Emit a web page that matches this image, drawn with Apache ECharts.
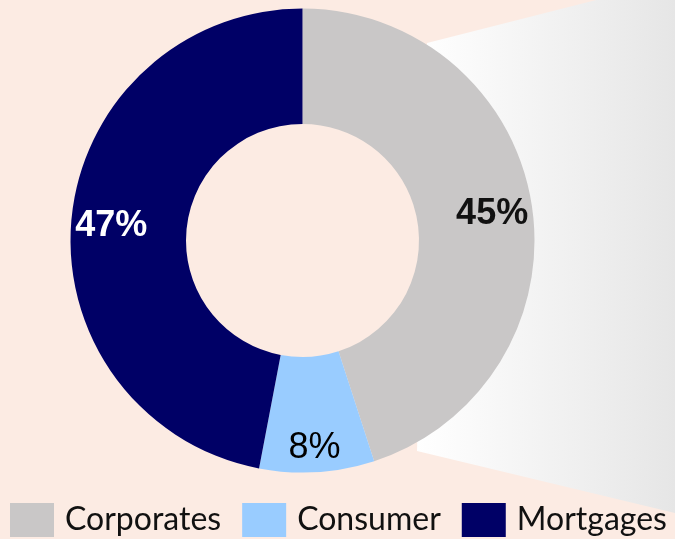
<!DOCTYPE html>
<html><head><meta charset="utf-8">
<script src="https://cdn.jsdelivr.net/npm/echarts@6/dist/echarts.min.js"></script>
<style>html,body{margin:0;padding:0;background:#fcebe3;}#c{width:675px;height:539px;}</style>
</head><body><div id="c"></div>
<script>
const categories = ['Corporates', 'Consumer', 'Mortgages'];
const values = [45, 8, 47];
const colors = ['#c9c7c7', '#99ccff', '#000066'];
const labelColors = ['#111111', '#000000', '#ffffff'];
const labelWeights = ['bold', 'normal', 'bold'];

const chart = echarts.init(document.getElementById('c'), null, {renderer: 'canvas'});
const ringData = categories.map((n, i) => ({name: n, value: values[i], itemStyle: {color: colors[i]}}));
const labelData = categories.map((n, i) => ({
  name: n, value: values[i],
  itemStyle: {color: 'rgba(0,0,0,0)'},
  label: {color: labelColors[i], fontWeight: labelWeights[i]}
}));
chart.setOption({
  backgroundColor: '#fcebe3',
  animation: false,
  graphic: [{
    type: 'polygon', z: -10, silent: true,
    shape: {points: [[427, 43], [675, -20], [675, 513], [417, 451]]},
    style: {fill: new echarts.graphic.LinearGradient(0, 0, 1, 0, [
      {offset: 0, color: '#ffffff'}, {offset: 1, color: '#e6e6e6'}
    ])}
  }],
  legend: {
    left: 10, top: 503, width: 670, padding: 0,
    itemWidth: 44, itemHeight: 34, itemGap: 21,
    icon: 'rect',
    data: categories.map((n, i) => ({name: n, itemStyle: {color: colors[i]}})),
    textStyle: {fontFamily: 'Lato', fontSize: 32, color: '#111', padding: [0, 0, 0, 6]}
  },
  series: [{
    type: 'pie',
    center: [302.5, 240.5],
    radius: [116.5, 232],
    startAngle: 90,
    clockwise: true,
    label: {show: false},
    labelLine: {show: false},
    emphasis: {disabled: true},
    data: ringData
  }, {
    type: 'pie',
    silent: true,
    center: [302.5, 240.5],
    radius: [150, 228],
    startAngle: 90,
    clockwise: true,
    z: 5,
    label: {
      show: true, position: 'inside',
      formatter: p => p.value + '%',
      fontFamily: 'Liberation Sans', fontSize: 36
    },
    labelLine: {show: false},
    emphasis: {disabled: true},
    labelLayout: p => ({dy: p.dataIndex === 1 ? 16 : 4}),
    data: labelData
  }]
});
</script></body></html>
